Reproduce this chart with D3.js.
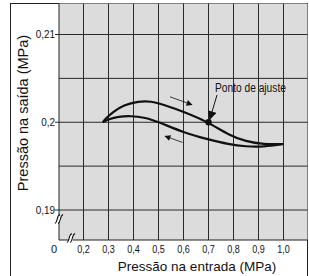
<!DOCTYPE html>
<html lang="pt">
<head>
<meta charset="UTF-8">
<title>Pressão na saída x entrada</title>
<script src="https://d3js.org/d3.v7.min.js"></script>
<style>
    body { margin: 0; background: #fff; }
    svg { display: block; }
    .tick-label { font-family: 'Liberation Sans', Arial, sans-serif; font-size: 11px; fill: #111; }
    .title { font-family: 'Liberation Sans', Arial, sans-serif; font-size: 13.5px; fill: #111; }
    .note { font-family: 'Liberation Sans', Arial, sans-serif; font-size: 12px; fill: #111; }
</style>
</head>
<body>
<div id="chart"></div>
<script>
// data (MPa)
const xTicks = [0.2, 0.3, 0.4, 0.5, 0.6, 0.7, 0.8, 0.9, 1.0];
const yTicks = [0.19, 0.2, 0.21];
const yGrid = [0.19, 0.195, 0.2, 0.205, 0.21];

// rising inlet pressure (upper branch)
const upX = [0.277, 0.29, 0.32, 0.36, 0.42, 0.47, 0.52, 0.6, 0.7, 0.78, 0.85, 0.92, 1.0];
const upY = [0.2000, 0.20045, 0.2012, 0.20195, 0.2024, 0.2024, 0.2020, 0.2012, 0.2000, 0.19855, 0.1978, 0.19748, 0.19752];
// falling inlet pressure (lower branch)
const downX = [0.277, 0.30, 0.34, 0.39, 0.44, 0.5, 0.6, 0.7, 0.78, 0.85, 0.92, 1.0];
const downY = [0.2000, 0.20035, 0.20065, 0.20072, 0.20058, 0.20005, 0.19882, 0.19803, 0.19748, 0.19723, 0.1972, 0.19752];

const setPoint = [0.7, 0.2];

const W = 309, H = 276;
const plot = { left: 59, right: 307.5, top: 3.5, bottom: 240 };

const svg = d3.select('#chart').append('svg')
    .attr('width', W).attr('height', H);

const x = d3.scaleLinear().domain([0.1, 1.0]).range([58.5, 283.5]);
const y = d3.scaleLinear().domain([0.19, 0.21]).range([210, 34.5]);

// squeeze text a bit, the original uses a condensed face
function condense(sel, k) {
    sel.each(function() {
        const len = this.getComputedTextLength();
        d3.select(this).attr('textLength', len * k).attr('lengthAdjust', 'spacingAndGlyphs');
    });
}

// arrow markers
const defs = svg.append('defs');
defs.append('marker')
    .attr('id', 'head')
    .attr('viewBox', '0 0 10 10').attr('refX', 9).attr('refY', 5)
    .attr('markerWidth', 9).attr('markerHeight', 6)
    .attr('markerUnits', 'userSpaceOnUse')
    .attr('orient', 'auto')
  .append('path').attr('d', 'M0,0 L10,5 L0,10 Z').attr('fill', '#111');
defs.append('marker')
    .attr('id', 'bighead')
    .attr('viewBox', '0 0 10 10').attr('refX', 10).attr('refY', 5)
    .attr('markerWidth', 11).attr('markerHeight', 9)
    .attr('markerUnits', 'userSpaceOnUse')
    .attr('orient', 'auto')
  .append('path').attr('d', 'M0,0 L10,5 L0,10 Z').attr('fill', '#111');

// outer frame
svg.append('rect')
    .attr('x', 10.5).attr('y', plot.top)
    .attr('width', plot.right - 10.5).attr('height', H)
    .attr('fill', '#fff').attr('stroke', '#222').attr('stroke-width', 1);

// plot background
svg.append('rect')
    .attr('x', plot.left).attr('y', plot.top)
    .attr('width', plot.right - plot.left).attr('height', plot.bottom - plot.top)
    .attr('fill', '#dcdcdc');

// grid
svg.selectAll('.vgrid').data(xTicks).enter().append('line')
    .attr('x1', d => x(d)).attr('x2', d => x(d))
    .attr('y1', plot.top).attr('y2', plot.bottom)
    .attr('stroke', '#2a2a2a').attr('stroke-width', 1);

svg.selectAll('.hgrid').data(yGrid).enter().append('line')
    .attr('x1', d => yTicks.includes(d) ? plot.left - 4 : plot.left).attr('x2', plot.right)
    .attr('y1', d => y(d)).attr('y2', d => y(d))
    .attr('stroke', '#2a2a2a').attr('stroke-width', 1);

// axes lines
svg.append('line')
    .attr('x1', plot.left).attr('x2', plot.left)
    .attr('y1', plot.top).attr('y2', plot.bottom)
    .attr('stroke', '#222');
svg.append('line')
    .attr('x1', plot.left).attr('x2', plot.right)
    .attr('y1', plot.bottom).attr('y2', plot.bottom)
    .attr('stroke', '#222');

// break marks
function breakMark(cx, cy) {
    const g = svg.append('g').attr('transform', `translate(${cx},${cy})`);
    g.append('rect').attr('x', -2).attr('y', -3).attr('width', 4).attr('height', 6).attr('fill', '#fff');
    [-1.6, 1.6].forEach(o => {
        g.append('path')
            .attr('d', `M${o - 2.5},4.5 C${o + 1},3 ${o - 1.5},-3 ${o + 2.5},-4.5`)
            .attr('fill', 'none').attr('stroke', '#111').attr('stroke-width', 1.1);
    });
}
breakMark(plot.left, 219);
breakMark(71, plot.bottom - 2);

// tick labels
const fmt = d => String(d === 1 ? '1.0' : d).replace('.', ',');
svg.selectAll('.xl').data(xTicks).enter().append('text')
    .attr('class', 'tick-label')
    .attr('x', d => x(d)).attr('y', 253)
    .attr('text-anchor', 'middle')
    .text(fmt)
    .call(condense, 0.82);
svg.append('text').attr('class', 'tick-label')
    .attr('x', 54).attr('y', 253).attr('text-anchor', 'middle').text('0');

svg.selectAll('.yl').data(yTicks).enter().append('text')
    .attr('class', 'tick-label')
    .attr('x', 55).attr('y', d => y(d)).attr('dy', '0.35em')
    .attr('text-anchor', 'end')
    .text(fmt)
    .call(condense, 0.9);

// axis titles
svg.append('text').attr('class', 'title')
    .attr('x', 197).attr('y', 271).attr('text-anchor', 'middle')
    .text('Pressão na entrada (MPa)');
svg.append('text').attr('class', 'title')
    .attr('transform', 'translate(28,113) rotate(-90)')
    .attr('text-anchor', 'middle')
    .style('font-size', '14.5px')
    .text('Pressão na saída (MPa)');

// curves
const line = d3.line()
    .x(d => x(d[0])).y(d => y(d[1]))
    .curve(d3.curveBasis);

svg.append('path')
    .datum(upX.map((v, i) => [v, upY[i]]))
    .attr('d', line)
    .attr('fill', 'none').attr('stroke', '#111').attr('stroke-width', 2.2);
svg.append('path')
    .datum(downX.map((v, i) => [v, downY[i]]))
    .attr('d', line)
    .attr('fill', 'none').attr('stroke', '#111').attr('stroke-width', 2.2);

// direction arrows
svg.append('line')
    .attr('x1', x(0.546)).attr('y1', y(0.2029))
    .attr('x2', x(0.634)).attr('y2', y(0.2020))
    .attr('stroke', '#111').attr('stroke-width', 0.8)
    .attr('marker-end', 'url(#head)');
svg.append('line')
    .attr('x1', x(0.596)).attr('y1', y(0.19770))
    .attr('x2', x(0.526)).attr('y2', y(0.19842))
    .attr('stroke', '#111').attr('stroke-width', 0.8)
    .attr('marker-end', 'url(#head)');

// setting point
svg.append('circle')
    .attr('cx', x(setPoint[0])).attr('cy', y(setPoint[1]))
    .attr('r', 3.2).attr('fill', '#111');
svg.append('line')
    .attr('x1', 217).attr('y1', 95)
    .attr('x2', x(setPoint[0]) + 1).attr('y2', y(setPoint[1]) - 2)
    .attr('stroke', '#111').attr('stroke-width', 1)
    .attr('marker-end', 'url(#bighead)');
svg.append('text').attr('class', 'note')
    .attr('x', 215).attr('y', 92)
    .text('Ponto de ajuste')
    .call(condense, 0.85);
</script>
</body>
</html>
